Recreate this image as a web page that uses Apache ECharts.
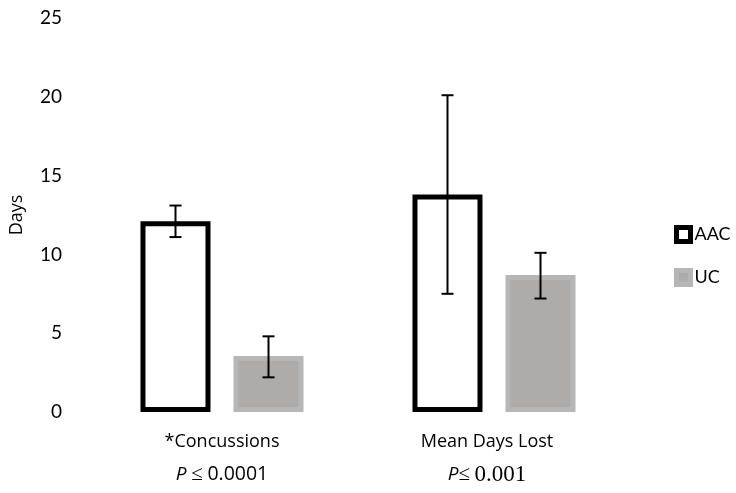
<!DOCTYPE html>
<html>
<head>
<meta charset="utf-8">
<script src="https://cdn.jsdelivr.net/npm/echarts@6/dist/echarts.min.js"></script>
<style>html,body{margin:0;padding:0;background:#fff;}#chart{width:736px;height:493px;}</style>
</head>
<body>
<div id="chart"></div>
<script>
var categories = ['*Concussions', 'Mean Days Lost'];
var pValues = ['0.0001', '0.001'];
var aacValues = [12.1, 13.8];
var ucValues = [3.55, 8.7];
var aacErrLow = [11.1, 7.5];
var aacErrHigh = [13.1, 20.1];
var ucErrLow = [2.2, 7.2];
var ucErrHigh = [4.8, 10.1];
var yTicks = [0, 5, 10, 15, 20, 25];

var FONT = 'Lato, "Open Sans", sans-serif';
var XFONT = '"Open Sans", Lato, sans-serif';
var FS = 19;
var XFS = 18;
var BAR_W = 70, BAR_BORDER = 5, GAP_PX = 18;
var OFFSET = (BAR_W + BAR_BORDER + GAP_PX) / 2;

function errSeries(name, low, high, sign) {
  return {
    type: 'custom',
    name: name + ' err',
    z: 10,
    silent: true,
    data: low.map(function (l, i) { return [i, l, high[i]]; }),
    renderItem: function (params, api) {
      var lo = api.coord([api.value(0), api.value(1)]);
      var hi = api.coord([api.value(0), api.value(2)]);
      var x = lo[0] + sign * OFFSET;
      var cap = 6;
      var st = { stroke: '#000', lineWidth: 2 };
      return {
        type: 'group',
        children: [
          { type: 'line', shape: { x1: x, y1: lo[1], x2: x, y2: hi[1] }, style: st },
          { type: 'line', shape: { x1: x - cap, y1: hi[1], x2: x + cap, y2: hi[1] }, style: st },
          { type: 'line', shape: { x1: x - cap, y1: lo[1], x2: x + cap, y2: lo[1] }, style: st }
        ]
      };
    }
  };
}

var xData = categories.map(function (c, i) {
  return i === 1 ? { value: c, textStyle: { padding: [0, 14, 0, 0] } } : c;
});

var chart = echarts.init(document.getElementById('chart'), null, { renderer: 'canvas' });
chart.setOption({
  animation: false,
  backgroundColor: '#fff',
  grid: { left: 86, right: 106, top: 18, bottom: 81, outerBoundsMode: 'none', containLabel: false },
  legend: {
    orient: 'vertical',
    left: 674,
    top: 225,
    padding: 0,
    itemWidth: 14,
    itemHeight: 14,
    itemGap: 24,
    textStyle: { fontFamily: FONT, fontSize: 18, color: '#000', padding: [0, 0, 0, -1] },
    data: [
      { name: 'AAC', icon: 'rect', itemStyle: { color: '#fff', borderColor: '#000', borderWidth: 5 } },
      { name: 'UC', icon: 'rect', itemStyle: { color: '#aeabab', borderColor: '#b6b6b6', borderWidth: 5 } }
    ]
  },
  xAxis: {
    type: 'category',
    data: xData,
    axisLine: { show: false },
    axisTick: { show: false },
    axisLabel: {
      margin: 13,
      interval: 0,
      formatter: function (v, i) {
        var p = pValues[i];
        if (i === 0) return v + '\n{pi|P} {le|≤} {sans|' + p + '}';
        return v + '\n{pi|P}{le|≤} {serif|' + p + '}';
      },
      fontFamily: XFONT,
      fontSize: XFS,
      color: '#000',
      lineHeight: 33,
      rich: {
        pi: { fontFamily: XFONT, fontStyle: 'italic', fontSize: 19, color: '#000', lineHeight: 33 },
        le: { fontFamily: '"Liberation Serif", serif', fontSize: 21, color: '#000', lineHeight: 33 },
        sans: { fontFamily: XFONT, fontSize: 19.5, color: '#000', lineHeight: 33 },
        serif: { fontFamily: '"Liberation Serif", serif', fontSize: 23, color: '#000', lineHeight: 33 }
      }
    }
  },
  yAxis: {
    type: 'value',
    min: yTicks[0],
    max: yTicks[yTicks.length - 1],
    interval: 5,
    name: 'Days',
    nameLocation: 'middle',
    nameGap: 60,
    nameRotate: 90,
    nameTextStyle: { fontFamily: XFONT, fontSize: 18, color: '#000' },
    axisLine: { show: false },
    axisTick: { show: false },
    splitLine: { show: false },
    axisLabel: { margin: 24, fontFamily: FONT, fontSize: FS, color: '#000' }
  },
  series: [
    {
      name: 'AAC', type: 'bar', data: aacValues, barWidth: BAR_W,
      barGap: ((BAR_BORDER + GAP_PX) / BAR_W * 100).toFixed(1) + '%',
      itemStyle: { color: '#fff', borderColor: '#000', borderWidth: BAR_BORDER }
    },
    {
      name: 'UC', type: 'bar', data: ucValues, barWidth: BAR_W,
      itemStyle: { color: '#aeabab', borderColor: '#b6b6b6', borderWidth: BAR_BORDER }
    },
    errSeries('AAC', aacErrLow, aacErrHigh, -1),
    errSeries('UC', ucErrLow, ucErrHigh, 1)
  ]
});
</script>
</body>
</html>
